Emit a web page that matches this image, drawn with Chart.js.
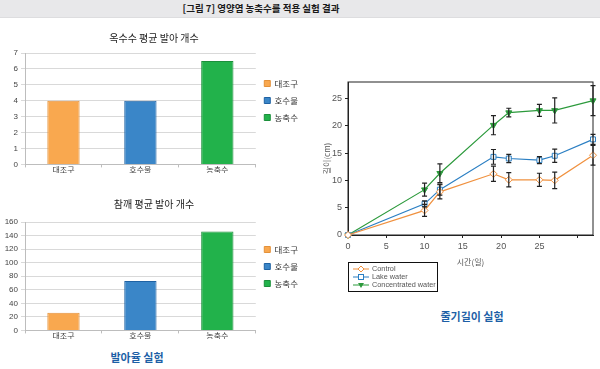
<!DOCTYPE html>
<html>
<head>
<meta charset="utf-8">
<script src="https://cdn.jsdelivr.net/npm/chart.js@4"></script>
<style>
  body { margin: 0; width: 600px; height: 369px; background: #fff; overflow: hidden; position: relative;
         font-family: "Noto Sans CJK KR", "Liberation Sans", sans-serif; }
  #hdr { position: absolute; left: 0; top: 0; width: 600px; height: 17px; background: #e8e8ea;
         border-bottom: 1px solid #dddddf; }
  #hdr span { position: absolute; left: 261px; top: 0; transform: translateX(-50%); white-space: nowrap;
              font-size: 9.5px; font-weight: bold; line-height: 17px; color: #1a1a1a; }
  canvas { position: absolute; }
  .cap { position: absolute; color: #1d5fa6; font-weight: bold; font-size: 11px; transform: translate(-50%, -50%); white-space: nowrap; }
  #lg { position: absolute; left: 348px; top: 262px; width: 88px; height: 28px; border: 1px solid #111;
        font-family: "Liberation Sans", sans-serif; font-size: 7.3px; color: #555; }
  #lg div { position: absolute; left: 4px; height: 8px; line-height: 8px; white-space: nowrap; }
  #lg svg { vertical-align: top; margin-right: 3px; }
</style>
</head>
<body>
<div id="hdr"><span>[그림 7] 영양염 농축수를 적용 실험 결과</span></div>
<canvas id="corn" width="300" height="150" style="left:0;top:28px"></canvas>
<canvas id="sesame" width="300" height="150" style="left:0;top:194px"></canvas>
<canvas id="stem" width="300" height="200" style="left:300px;top:70px"></canvas>
<div class="cap" style="left:137px;top:357px">발아율 실험</div>
<div class="cap" style="left:472px;top:316px">줄기길이 실험</div>
<div id="lg">
  <div style="top:2px"><svg width="16" height="8"><line x1="0" y1="4" x2="16" y2="4" stroke="#f0913f" stroke-width="1"/><path d="M8 1 L11 4 L8 7 L5 4 Z" fill="#fff" stroke="#f0913f"/></svg>Control</div>
  <div style="top:10px"><svg width="16" height="8"><line x1="0" y1="4" x2="16" y2="4" stroke="#2b7fc3" stroke-width="1"/><rect x="5.5" y="1.5" width="5" height="5" fill="#fff" stroke="#2b7fc3"/></svg>Lake water</div>
  <div style="top:18px"><svg width="16" height="8"><line x1="0" y1="4" x2="16" y2="4" stroke="#2c9a3c" stroke-width="1"/><path d="M5 2 L11 2 L8 7 Z" fill="#2c9a3c"/></svg>Concentrated water</div>
</div>
<script>
// germination bar charts
const categories = ['대조구', '호수물', '농축수'];
const cornCounts = [4, 4, 6.5];
const sesameCounts = [26, 73, 146];
const barColors = ['#f9a84f', '#3a86c8', '#22b24b'];
const barBorders = ['#e3913a', '#1f62a3', '#1b8f3b'];

// stem length (cm) by day, with error bars
const days = [0, 10, 12, 19, 21, 25, 27, 32];
const controlLen = [0, 4.5, 7.9, 11.2, 10.1, 10.1, 10.0, 14.6];
const controlErr = [0, 1.1, 1.3, 1.4, 1.3, 1.2, 1.5, 1.8];
const lakeLen = [0, 5.7, 8.3, 14.3, 14.0, 13.7, 14.5, 17.5];
const lakeErr = [0, 0.55, 1.0, 1.35, 0.75, 0.65, 1.2, 0.9];
const concLen = [0, 8.3, 11.3, 20.1, 22.4, 22.8, 22.8, 24.6];
const concErr = [0, 1.2, 1.7, 1.75, 0.8, 1.1, 2.3, 2.75];

const cjk = '"Noto Sans CJK KR", "Liberation Sans", sans-serif';
const latin = '"Liberation Sans", "Noto Sans CJK KR", sans-serif';

function barChart(id, title, values, maxY, step, titleGap) {
    return new Chart(document.getElementById(id), {
        type: 'bar',
        data: {
            labels: categories,
            datasets: categories.map((name, i) => ({
                label: name,
                data: values.map((v, j) => (j === i ? v : null)),
                backgroundColor: barColors[i],
                borderColor: barBorders[i],
                borderWidth: 1,
                categoryPercentage: 1,
                barPercentage: 0.42,
                grouped: false
            }))
        },
        options: {
            responsive: false,
            animation: false,
            devicePixelRatio: 1,
            layout: { padding: { left: 0, right: -8, top: 0, bottom: 5 } },
            scales: {
                x: {
                    grid: { offset: true, drawOnChartArea: false, tickLength: 3, color: '#bdbdbd' },
                    border: { color: '#bdbdbd' },
                    ticks: { font: { family: cjk, size: 8 }, color: '#444', padding: -2 }
                },
                y: {
                    min: 0,
                    max: maxY,
                    ticks: { stepSize: step, font: { family: latin, size: 8 }, color: '#444', padding: 3 },
                    grid: { color: '#d9d9d9', tickLength: 4 },
                    border: { color: '#bdbdbd' },
                    afterFit: s => { s.width = 25; }
                }
            },
            plugins: {
                title: {
                    display: true,
                    text: title,
                    font: { family: cjk, size: 10, weight: 'normal' },
                    color: '#222',
                    padding: { top: 4, bottom: titleGap }
                },
                legend: {
                    position: 'right',
                    labels: { boxWidth: 6, boxHeight: 6, padding: 8.5, font: { family: cjk, size: 8.5 }, color: '#333' }
                },
                tooltip: { enabled: false }
            }
        }
    });
}

barChart('corn', '옥수수 평균 발아 개수', cornCounts, 7, 1, 9);
barChart('sesame', '참깨 평균 발아 개수', sesameCounts, 160, 20, 12);

const errorBars = {
    id: 'errorBars',
    afterDatasetsDraw(chart) {
        const { ctx, scales: { x, y } } = chart;
        ctx.save();
        ctx.strokeStyle = '#222';
        ctx.lineWidth = 1.2;
        chart.data.datasets.forEach(ds => {
            ds.errors.forEach((e, i) => {
                if (!e) return;
                const px = x.getPixelForValue(ds.data[i].x);
                const top = y.getPixelForValue(ds.data[i].y + e);
                const bot = y.getPixelForValue(ds.data[i].y - e);
                ctx.beginPath();
                ctx.moveTo(px, top); ctx.lineTo(px, bot);
                ctx.moveTo(px - 2.5, top); ctx.lineTo(px + 2.5, top);
                ctx.moveTo(px - 2.5, bot); ctx.lineTo(px + 2.5, bot);
                ctx.stroke();
            });
        });
        ctx.restore();
    }
};

const frame = {
    id: 'frame',
    beforeDatasetsDraw(chart) {
        const { ctx, chartArea: a } = chart;
        ctx.save();
        ctx.strokeStyle = '#222';
        ctx.lineWidth = 1;
        ctx.strokeRect(a.left, a.top, a.right - a.left, a.bottom - a.top);
        ctx.restore();
    }
};

function series(label, vals, errs, color, style, fill, rotation) {
    return {
        label: label,
        data: days.map((d, i) => ({ x: d, y: vals[i] })),
        errors: errs,
        borderColor: color,
        borderWidth: 1.2,
        backgroundColor: fill,
        pointBackgroundColor: fill,
        pointBorderColor: color,
        pointBorderWidth: 1,
        pointStyle: style,
        pointRotation: rotation,
        pointRadius: 3.5,
        tension: 0,
        clip: false
    };
}

new Chart(document.getElementById('stem'), {
    type: 'line',
    data: {
        datasets: [
            series('Control', controlLen, controlErr, '#f0913f', 'rectRot', '#fff', 0),
            series('Lake water', lakeLen, lakeErr, '#2b7fc3', 'rect', '#fff', 0),
            series('Concentrated water', concLen, concErr, '#2c9a3c', 'triangle', '#2c9a3c', 180)
        ]
    },
    options: {
        responsive: false,
        animation: false,
        devicePixelRatio: 1,
        layout: { padding: { left: 22, right: 7, top: 12, bottom: 0 } },
        scales: {
            x: {
                type: 'linear',
                min: 0,
                max: 32,
                ticks: {
                    stepSize: 5, includeBounds: false, padding: 3,
                    font: { family: latin, size: 9 }, color: '#555',
                    callback: v => (v === 30 ? '' : v)
                },
                grid: { drawOnChartArea: false, tickLength: 3, color: '#222' },
                border: { color: '#222' },
                title: { display: true, text: '시간(일)', font: { family: cjk, size: 8 }, color: '#555', padding: { top: 2, bottom: 3 } },
                afterFit: s => { s.height = 35; }
            },
            y: {
                min: 0,
                max: 28,
                ticks: { stepSize: 5, includeBounds: false, padding: 3, font: { family: latin, size: 9 }, color: '#555' },
                grid: { drawOnChartArea: false, tickLength: 3, color: '#222' },
                border: { color: '#222' },
                title: { display: true, text: '길이(cm)', font: { family: cjk, size: 8 }, color: '#555', padding: 0 },
                afterFit: s => { s.width = 26; }
            }
        },
        plugins: {
            legend: { display: false },
            tooltip: { enabled: false }
        }
    },
    plugins: [frame, errorBars]
});
</script>
</body>
</html>
